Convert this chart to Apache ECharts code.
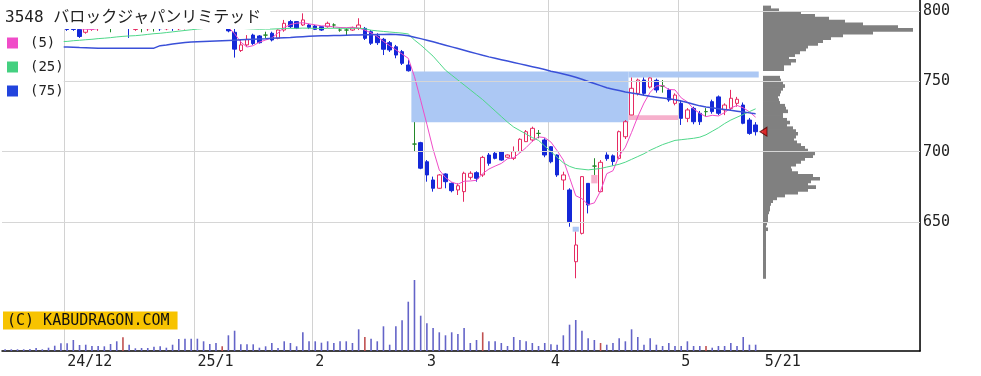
<!DOCTYPE html>
<html><head><meta charset="utf-8">
<script src="https://cdn.jsdelivr.net/npm/echarts@6/dist/echarts.min.js"></script>
<style>html,body{margin:0;padding:0;background:#fff}#c{width:981px;height:376px}</style>
</head><body><div id="c"></div>
<script>
const dates = [
'2024-11-18','2024-11-19','2024-11-20','2024-11-21','2024-11-22','2024-11-25','2024-11-26','2024-11-27','2024-11-28','2024-11-29',
'2024-12-02','2024-12-03','2024-12-04','2024-12-05','2024-12-06','2024-12-09','2024-12-10','2024-12-11','2024-12-12','2024-12-13',
'2024-12-16','2024-12-17','2024-12-18','2024-12-19','2024-12-20','2024-12-23','2024-12-24','2024-12-25','2024-12-26','2024-12-27','2024-12-30',
'2025-01-06','2025-01-07','2025-01-08','2025-01-09','2025-01-10','2025-01-14','2025-01-15','2025-01-16','2025-01-17','2025-01-20',
'2025-01-21','2025-01-22','2025-01-23','2025-01-24','2025-01-27','2025-01-28','2025-01-29','2025-01-30','2025-01-31',
'2025-02-03','2025-02-04','2025-02-05','2025-02-06','2025-02-07','2025-02-10','2025-02-12','2025-02-13','2025-02-14','2025-02-17',
'2025-02-18','2025-02-19','2025-02-20','2025-02-21','2025-02-25','2025-02-26','2025-02-27','2025-02-28',
'2025-03-03','2025-03-04','2025-03-05','2025-03-06','2025-03-07','2025-03-10','2025-03-11','2025-03-12','2025-03-13','2025-03-14',
'2025-03-17','2025-03-18','2025-03-19','2025-03-21','2025-03-24','2025-03-25','2025-03-26','2025-03-27','2025-03-28','2025-03-31',
'2025-04-01','2025-04-02','2025-04-03','2025-04-04','2025-04-07','2025-04-08','2025-04-09','2025-04-10','2025-04-11','2025-04-14',
'2025-04-15','2025-04-16','2025-04-17','2025-04-18','2025-04-21','2025-04-22','2025-04-23','2025-04-24','2025-04-25','2025-04-28','2025-04-30',
'2025-05-01','2025-05-02','2025-05-07','2025-05-08','2025-05-09','2025-05-12','2025-05-13','2025-05-14','2025-05-15','2025-05-16',
'2025-05-19','2025-05-20','2025-05-21'];

const opens = [
790,789,790,788,789,791,790,788,789,788,
790,789,787,785,787,789,790,789,790,791,
790,787,789,787.5,789,790,787.5,790,787.5,788,791,
790,791,790,791,789,789,785,772,776,783,
782.4,783,784.3,780.7,786.6,792.6,792.6,790.2,790.2,
789.5,789,789,790.2,786.6,786.6,786.6,787.8,787.8,785.4,
782.4,780,777.6,774.7,771.2,761.7,705.4,706.4,
692.8,679.8,673.9,684.1,677.4,672.7,671.5,681.7,685,683.4,
697.6,698.8,700,696,695.2,700,707.1,708.3,713,708.3,
703.5,697.6,679.8,672.7,621.6,641.8,677.4,689.7,671.5,697.6,
697,695.2,710.6,726.1,741.5,751,746,750.8,746.7,743.9,734.4,
734.4,723.7,730.8,727.3,728.5,735.6,739,729.7,730.8,734.4,
733.2,722.5,719];
const closes = [
789,790,788,789,791,790,788,789,791,791,
787,787,782,789,790,790,789,789,791,790,
788,789,789,790,789,787.5,790,788,790,791,790,
791,790,791,789,790,786,773,776,780,777,
777.6,783,779.5,786.6,791.4,789,787.8,793.8,788.5,
787.1,786.6,791.4,790.2,786.6,786.6,788.3,790.2,780.7,777.2,
777.6,772.9,772.4,768.8,762.9,757.6,705.4,688.2,
683.4,673.9,683.4,678.6,672.2,675.7,684.6,684.6,681,695.9,
691.7,695.2,694,697.6,700,708.8,714.2,716.6,713,697.6,
692.8,683.4,683.4,650.1,633.5,682.2,662,689.7,692.4,695,
693,714.2,721.3,745.1,751,741.5,752.5,743.9,746.7,736.8,740.3,
723.7,729.7,721.3,721.3,728.5,728.5,727.3,733.2,738,737.3,
720.2,713,714.2];
const lows = [
787,787,786,786,788,788,786,787,788,786.5,
786,786,781,784,786,786,787.5,785,788,788,
781,786,785,786,785.5,786,786.5,786,786.5,787,788,
788,788,788,788,788,785,767,771,774.5,776,
777,780.7,778.5,780,785.4,788,787.3,789.5,787.3,
786.6,786,788.3,788,785.4,783,786,786.6,779.5,776,
776,768.8,771,766.5,761.7,757,700,687.5,
678.6,671.5,673.5,673.9,671,669.1,664.3,680,678.6,682,
690,694.5,693.5,695.5,694,699.5,707,707.1,709.5,696,
691.7,682,672.7,646.5,609.8,641,656,683.4,671,693.5,
690,694.5,709,726,740,740,745,742,742,735.5,733,
719,721,719.5,719,725,727,726,726,729.7,732,
719.5,712,711.5];
const highs = [
792,792,791,790,793,793,791,791,793,792,
791,790,789,790,791,791,791,791,793,793,
791,790,791,791,791,791,791,791,792,792,792,
793,793,792,792,791,790,788,779.5,783,784,
783,785.4,785.4,787,793.8,793.8,793,798.5,791,
790.2,789.5,792.6,791.4,788,788,789,795,788.8,786.6,
784.3,781,778.8,776,772.4,765.3,721,707,
694,682.2,684,684.6,678,677.4,685.7,686,686,697,
699,700.3,700.5,698,703.7,709.5,715.4,717.8,715.4,709.5,
704,698,685.7,673.9,643,682.5,677.4,695.3,694,699.5,
698,715,722.5,752.8,752,752.8,752.8,752,751,745,741.5,
736.8,731,732,729,731,737,740,734.4,744,739,
735,724,721];
const volume = [
1.7,1.7,1.7,1.7,2,3,1.7,3.3,5.3,7.7,
7.7,11,6,6.3,5,5,4.7,7,9.7,13.7,
6.3,2.7,3,3,4.3,4.7,3.3,6.3,12,12.3,12.3,
12.3,9.7,7,8,4.7,15.7,20.3,6.7,6.7,6.7,
3.3,4.7,8,3,9.7,8,4.7,18.7,9.7,
9.7,8.3,9.7,8,9.7,9.7,8,21.7,14,12.3,
9.7,24.7,6.3,24.7,30.7,49.3,71,35.3,
27.7,23,18.7,15.7,18.7,17,23,8,11,18.7,
9.7,9.7,8,5,14,11,9.7,8,5,8,
6.7,6.3,15.7,26.3,31,20.3,12.7,11,8,6.3,
8,12.7,9.7,21.7,14,6.3,12.7,6.3,5,8,5,
5,9.7,5,5,5,3.3,5,5,8,5,
14,6.3,6.3];
const redVolumeDays = ['2024-12-13','2025-01-10','2025-02-14','2025-03-14','2025-04-11','2025-05-09'];

const ma5 = [
790,789.8,789.6,789.4,789.4,789.6,789.2,789.4,789.8,789.8,
789.2,789,787.6,787.2,787,787.6,788,789.4,789.8,789.8,
789.4,789.4,789.4,789.2,789,788.9,789.1,788.9,788.9,789.3,789.8,
790,790.4,790.6,790.2,790.2,788.5,784,778,774.5,775.5,
778,779.5,781,784.5,788.5,790.5,791.5,791.8,791,
790.3,789.6,789.5,788.8,788.4,788.3,788.6,788,786.5,784.6,
782,778.5,775.5,772.5,769.5,766.5,753.4,736.6,
719.5,701.7,686.9,681.5,678.3,676.8,678.9,679.1,679.6,684.4,
687.6,689.7,691.6,694.9,695.7,699.1,702.9,707.4,710.5,710,
706.8,700.7,694,681.5,668.6,666.5,662.2,663.5,672,684.3,
686.4,696.9,703.2,713.7,724.9,734.6,742.3,746.8,747.1,744.3,744,
738.3,735.4,730.4,727.3,724.9,725.9,725.4,727.8,731.1,732.9,
731.2,728.3,724.5];
const ma25 = [
776,776.3,776.6,776.9,777.2,777.5,777.8,778,778.2,778.4,
778.5,779,779.3,779.7,780,780.5,780.8,781.2,781.7,782.1,
782.4,782.6,783,783.5,784,784.3,784.8,785.3,785.8,786.3,786.8,
787.3,787.7,788,788.3,788.5,788.5,788,787.8,787.6,787.4,
787.2,787.3,787.3,787.5,787.7,787.8,787.8,788,787.9,
787.8,787.7,787.8,787.9,787.8,787.8,787.8,787.9,787.5,786.5,
786,785.6,785.2,784.8,784.4,783.8,779.5,776,
772,768,763,758,754.5,751,747.5,744,740.5,737,
733,729,725,721,717.5,715,712.5,710,708,704,
700,696,692,689.5,688,687.5,687,687.5,688,689,
690,691,692.5,694.5,696.5,698.5,701,703,705,706.5,708,
708.5,709,709.5,710.3,712,714.5,717,720,722.5,724.5,
726.5,728.5,730.5];
const ma75 = [
775.5,775.4,775.3,775.2,775.1,775,774.9,774.8,774.7,774.6,
774.5,774.3,774.1,774,773.8,773.6,773.6,773.6,773.6,773.6,
773.6,773.6,773.6,773.6,773.7,775.5,776,776.6,777.2,777.8,778,
778.2,778.4,778.6,778.8,779,779.2,779.4,779.6,779.8,780,
780.2,780.4,780.7,780.9,781.1,781.3,781.6,781.9,782.2,
782.4,782.5,782.6,782.7,782.8,782.9,783,783.1,783.2,783.3,
783.4,783.5,783.6,783.4,783.1,782.5,781.5,780.5,
779.4,778.3,777,775.8,774.6,773.4,772.2,771,769.8,768.6,
767.5,766.5,765.5,764.5,763.5,762.5,761.5,760.5,759.5,758.5,
757.3,756.3,755.3,754.2,753,751.5,750,748.5,747,745.5,
744.5,743.5,742.5,741.8,741,740.2,739.4,738.8,738.2,737.6,737,
736,735,733.8,732.6,731.8,731.2,730.6,730,729.4,728.8,
728.2,727.6,727];

// price gaps (windows): start day, first day after gap ends, low, high, direction
const gapStart = ['2025-02-27','2025-04-18','2025-04-07','2025-04-10','2025-04-18'];
const gapEnd   = ['2025-04-18','END','2025-04-08','2025-04-11','2025-05-01'];
const gapLow   = [721, 752.8, 643, 677.4, 722.5];
const gapHigh  = [757, 757, 646.5, 683.4, 726];
const gapDir   = ['down','down','down','up','up'];

// volume-by-price profile
const profilePrice = [802,800,798,796,794,792,790,788,786,784,782,780,778,776,774,772,770,768,766,764,762,760,758,756,754,
752,750,748,746,744,742,740,738,736,734,732,730,728,726,724,722,720,718,716,714,712,710,708,706,704,702,700,
698,696,694,692,690,688,686,684,682,680,678,676,674,672,670,668,666,664,662,660,658,656,654,652,650,
648,646,644,642,640,638,636,634,632,630,628,626,624,622,620,618,616,614,612,610];
const profileVol = [8,16,38,52,66,82,100,135,150,110,80,68,60,55,45,43,37,32,26,33,28,21,21,0,0,
17,18,20,22,20,18,17,15,16,17,22,23,25,20,20,24,27,24,30,33,35,33,31,34,38,42,45,
52,50,42,38,33,28,29,35,50,57,48,45,53,45,35,22,14,10,8,7,7,6,5,5,5,
4,3,5,3,3,3,3,3,3,3,3,3,3,3,3,3,3,3,3,3];

const tickDates  = ['2024-12-02','2025-01-06','2025-02-03','2025-03-03','2025-04-01','2025-05-01'];
const tickLabels = ['24/12','25/1','2','3','4','5'];
const lastLabel = '5/21';
const priceTicks = [650,700,750,800];
const maNames = ['(5)','(25)','(75)'];
const title = '3548 バロックジャパンリミテッド';
const credit = '(C) KABUDRAGON.COM';

const PAD = 26;
const cats = dates.concat(Array.from({length: PAD}, (_, k) => 'pad' + (k + 1)));
const idxOf = d => d === 'END' ? dates.length : dates.indexOf(d);
const tickIdx = tickDates.map(idxOf);
const lastIdx = dates.length - 1;

const RED = '#e62a62', BLUE = '#1428d8', GREEN = '#23882a';
const MONO = 'DejaVu Sans Mono';

const chart = echarts.init(document.getElementById('c'), null, {renderer: 'canvas'});
chart.setOption({
  animation: false,
  backgroundColor: '#fff',
  title: [
    {text: title, left: 0, top: 0, padding: [9, 9, 3, 5], backgroundColor: '#fff', z: 20,
     textStyle: {fontFamily: MONO + ', "Noto Sans CJK JP"', fontSize: 16, fontWeight: 'normal', color: '#222', lineHeight: 17}},
    {text: credit, left: 3, top: 312, padding: [2, 8, 1, 4], backgroundColor: '#f7c300', z: 20,
     textStyle: {fontFamily: MONO, fontSize: 15, fontWeight: 'normal', color: '#111', lineHeight: 14}}
  ],
  legend: {
    orient: 'vertical', left: 0, top: 29, padding: [7, 0, 2, 7], itemWidth: 11, itemHeight: 11, itemGap: 10,
    icon: 'rect', backgroundColor: '#fff', z: 20, selectedMode: false, data: maNames,
    textStyle: {fontFamily: MONO, fontSize: 14, color: '#222', padding: [0, 0, 0, 7]}
  },
  grid: [
    {left: 2, right: 61, top: 0, bottom: 25},
    {left: 763, right: 61, top: 0, bottom: 25}
  ],
  xAxis: [
    {type: 'category', gridIndex: 0, data: cats, boundaryGap: true,
     axisLine: {show: true, lineStyle: {color: '#000', width: 1.5}},
     axisTick: {show: false},
     splitLine: {show: true, interval: (i) => tickIdx.includes(i), lineStyle: {color: '#d2d2d2', width: 1}},
     axisLabel: {show: true, interval: (i) => tickIdx.includes(i) || i === lastIdx, align: 'left', margin: 4,
       fontFamily: MONO, fontSize: 15, color: '#222',
       formatter: (v, i) => {
         const k = tickIdx.indexOf(i);
         if (k >= 0) return tickLabels[k];
         if (i === lastIdx) return '{s|' + lastLabel + '}';
         return '';
       },
       rich: {s: {fontFamily: MONO, fontSize: 15, color: '#222', padding: [0, 0, 0, 9]}}
     }},
    {type: 'value', gridIndex: 1, min: 0, max: 157, show: false}
  ],
  yAxis: [
    {type: 'value', gridIndex: 0, position: 'right', min: 558, max: 808, scale: true,
     axisLine: {show: true, lineStyle: {color: '#000', width: 1.5}},
     axisTick: {show: true, inside: true, length: 4, customValues: priceTicks, lineStyle: {color: '#000'}},
     axisLabel: {show: true, customValues: priceTicks, margin: 3, fontFamily: MONO, fontSize: 15, color: '#222'},
     splitLine: {show: false}},
    {type: 'value', gridIndex: 0, min: 0, max: 351, show: false},
    {type: 'value', gridIndex: 1, min: 558, max: 808, show: false}
  ],
  series: [
    {type: 'line', name: 'grid', xAxisIndex: 0, yAxisIndex: 0, data: [], z: 0, silent: true,
     markLine: {silent: true, symbol: ['none', 'none'], label: {show: false}, animation: false,
       lineStyle: {color: '#d6d6d6', width: 1, type: 'solid'},
       data: priceTicks.map(v => ({yAxis: v}))}},
    {type: 'custom', name: 'gaps', xAxisIndex: 0, yAxisIndex: 0, z: 1, silent: true,
     data: gapStart.map((s, k) => [idxOf(s), idxOf(gapEnd[k]), gapLow[k], gapHigh[k], gapDir[k] === 'up' ? 1 : 0]),
     encode: {x: [0, 1], y: [2, 3]},
     renderItem: (params, api) => {
       const bw = api.size([1, 0])[0];
       const a = api.coord([api.value(0), api.value(3)]);
       const b = api.coord([api.value(1), api.value(2)]);
       const x0 = a[0] - bw / 2, x1 = b[0] - bw / 2;
       return {type: 'rect', shape: {x: x0, y: a[1], width: x1 - x0, height: b[1] - a[1]},
         style: {fill: api.value(4) ? '#f6b0cc' : '#acc8f4'}};
     }},
    {type: 'bar', name: 'volume', xAxisIndex: 0, yAxisIndex: 1, barWidth: 1.6, z: 2, silent: true,
     data: volume.map((v, i) => ({value: v, itemStyle: {color: redVolumeDays.includes(dates[i]) ? '#c05050' : '#6464c8'}}))},
    {type: 'candlestick', name: 'price', xAxisIndex: 0, yAxisIndex: 0, barWidth: 4, z: 3,
     data: dates.map((d, i) => [opens[i], closes[i], lows[i], highs[i]]),
     itemStyle: {color: '#ffffff', color0: BLUE, borderColor: RED, borderColor0: BLUE, borderColorDoji: GREEN, borderWidth: 1}},
    {type: 'line', name: maNames[0], xAxisIndex: 0, yAxisIndex: 0, data: ma5, symbol: 'none', z: 4,
     lineStyle: {color: '#f04cc8', width: 1}, itemStyle: {color: '#f04cc8'}},
    {type: 'line', name: maNames[1], xAxisIndex: 0, yAxisIndex: 0, data: ma25, symbol: 'none', z: 4,
     lineStyle: {color: '#4fd88a', width: 1}, itemStyle: {color: '#44d080'}},
    {type: 'line', name: maNames[2], xAxisIndex: 0, yAxisIndex: 0, data: ma75, symbol: 'none', z: 4,
     lineStyle: {color: '#3a50d8', width: 1.5}, itemStyle: {color: '#2244dd'}},
    {type: 'custom', name: 'profile', xAxisIndex: 1, yAxisIndex: 2, z: 2, silent: true,
     data: profilePrice.map((p, i) => [p, profileVol[i]]),
     encode: {x: 1, y: 0},
     renderItem: (params, api) => {
       const lo = api.value(0), w = api.value(1);
       const a = api.coord([0, lo + 2]);
       const b = api.coord([w, lo]);
       return {type: 'rect', shape: {x: a[0], y: a[1], width: b[0] - a[0], height: b[1] - a[1] + 0.8},
         style: {fill: '#808080'}};
     }},
    {type: 'scatter', name: 'last', xAxisIndex: 1, yAxisIndex: 2, z: 5, silent: true,
     data: [[0, closes[lastIdx]]], symbol: 'triangle', symbolRotate: 90, symbolSize: [9, 7], symbolOffset: [0.5, 0],
     itemStyle: {color: '#ee1111', borderColor: '#550000', borderWidth: 1}}
  ]
});
</script></body></html>
